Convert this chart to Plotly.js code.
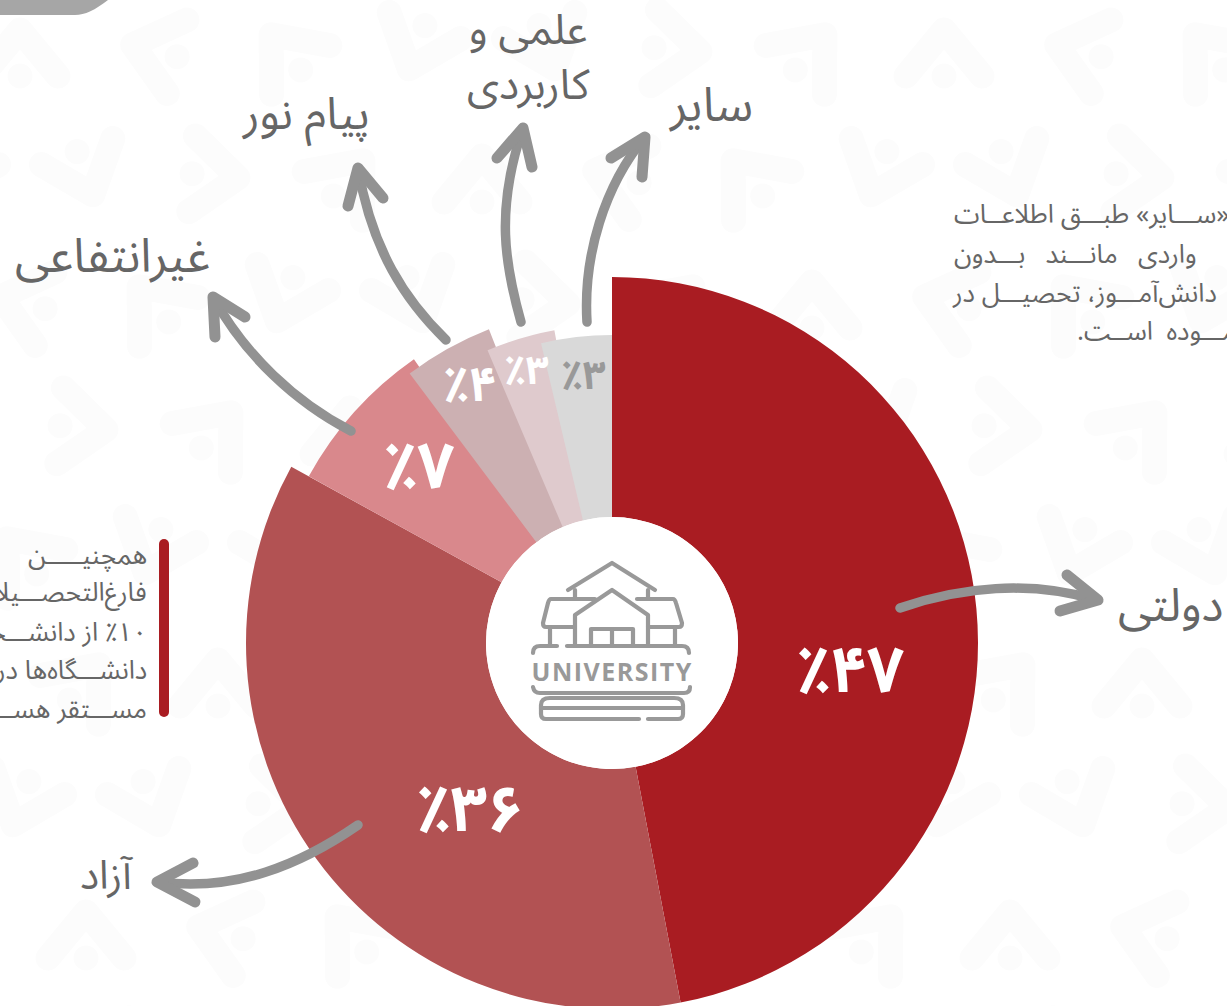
<!DOCTYPE html>
<html><head><meta charset="utf-8">
<script src="https://cdn.plot.ly/plotly-3.0.1.min.js"></script>
<style>html,body{margin:0;padding:0;width:1227px;height:1006px;overflow:hidden;background:#fff}</style>
</head><body><div id="chart"></div>
<script>
const categories=['دولتی','آزاد','غیرانتفاعی','پیام نور','علمی و کاربردی','سایر'];
const shares=[47,36,7,4,3,3];
const valueLabels=['٪۴۷','٪۳۶','٪۷','٪۴','٪۳','٪۳'];
const sliceColors=['#a91c22','#b25253','#d9888c','#ccb0b2','#dfcacd','#d9d9d9'];
const sliceRadii=[366,366,346,337,318,308];
// where each stacked wedge starts and ends on the 0-100 circle (the small wedges overlap slightly in the picture)
const sliceStart=[0,47,83,89.75,93.6,96.3];
const sliceEnd=[47,83,90.3,94.05,97.1,100];

const W=1227,H=1100,CX=612,CY=643,HOLE=126;
const fx=x=>x/W, fy=y=>1-y/H;
const FONT='"Noto Sans Arabic","DejaVu Sans",sans-serif';
const rtl=s=>'\u202B'+s+'\u202C';
const CLEAR='rgba(0,0,0,0)';

const traces=categories.map((c,i)=>({
  type:'pie',name:c,labels:['_a'+i,c,'_b'+i],values:[sliceStart[i],sliceEnd[i]-sliceStart[i],100-sliceEnd[i]],
  sort:false,direction:'clockwise',rotation:0,
  hole:HOLE/sliceRadii[i],textinfo:'none',hoverinfo:'label',showlegend:false,
  marker:{colors:[CLEAR,sliceColors[i],CLEAR],line:{width:0}},
  domain:{x:[fx(CX-sliceRadii[i]),fx(CX+sliceRadii[i])],y:[fy(CY+sliceRadii[i]),fy(CY-sliceRadii[i])]}
}));

const P=s=>s.replace(/(-?[\d.]+),(-?[\d.]+)/g,(m,a,b)=>fx(+a).toFixed(5)+','+fy(+b).toFixed(5));
const path=(d,color,width,fill,layer)=>({type:'path',xref:'paper',yref:'paper',path:P(d),layer:layer||'above',
  line:{color:color,width:width},fillcolor:fill||CLEAR});

// faint watermark: chevrons with a dot, turned differently from cell to cell
let wm='';
const turns=[0,95,200,285,40,160,320];
for(let j=-1;j<9;j++)for(let i=-1;i<11;i++){
  const ox=i*132+(j%2?66:0)+20,oy=j*126+50,a=turns[((i*3+j*5)%7+7)%7]*Math.PI/180;
  const rot=(x,y)=>(ox+x*Math.cos(a)-y*Math.sin(a)).toFixed(1)+','+(oy+x*Math.sin(a)+y*Math.cos(a)).toFixed(1);
  wm+='M'+rot(-38,26)+' L'+rot(0,-20)+' L'+rot(38,26)+' M'+rot(0,26)+' L'+rot(0,26)+' ';
}
const shapes=[path(wm,'#fcfcfc',25,null,'below')];
shapes.push(path('M0,0 L108,0 C95,10 85,15 75,15 L0,15 Z','#a6a6a6',0,'#a6a6a6','below'));
shapes.push(path('M164,544 L164,712','#a91c22',10));

shapes.push({type:'circle',xref:'paper',yref:'paper',layer:'above',x0:fx(CX-HOLE),x1:fx(CX+HOLE),
  y0:fy(CY+HOLE),y1:fy(CY-HOLE),fillcolor:'#fff',line:{width:0}});

const GR='#929292';
['M900,608 C960,587 1030,580 1096,600','M358,825 C300,865 235,892 159,882','M351,431 C295,402 245,355 213,297',
 'M446,340 C405,300 372,250 358,168','M521,322 C505,265 495,210 523,128','M587,322 C583,255 605,185 645,137']
 .forEach(d=>shapes.push(path(d,GR,9.5)));
['M1067,575 L1098,600 L1060,611','M193,863 L157,882 L195,902','M215,337 L213,297 L245,317',
 'M348,206 L358,168 L383,198','M497,158 L523,128 L532,167','M611,158 L645,137 L642,177']
 .forEach(d=>shapes.push(path(d,GR,11)));

const IC='#999999';
[
 'M568,590 L612,563 L655,590','M575,590 L575,598','M648,590 L648,598',
 'M595,599 L551,599 Q549,599 548,603 L543,623 Q543,627 546,627 L575,627',
 'M637,599 L673,599 Q675,599 676,603 L682,623 Q682,627 679,627 L648,627',
 'M575,645 L575,615 L612,590 L648,615 L648,645',
 'M591,645 L591,629 L633,629 L633,645','M612,630 L612,645',
 'M550,627 L550,645','M675,627 L675,645',
 'M533,653 Q533,646 540,646 L557,646','M567,646 L682,646 Q689,646 689,653',
 'M533,687 Q534,693 540,693 L684,693 Q690,693 690,687',
 'M639,719 L546,719 Q541,719 541,714 L541,705 Q541,698 550,698 L674,698 Q683,698 683,705 L683,714 Q683,719 678,719 L648,719',
 'M541,708 L683,708'
].forEach(d=>shapes.push(path(d,IC,4.2)));

const ann=(t,x,y,size,color,anchor,bold,family)=>({xref:'paper',yref:'paper',x:fx(x),y:fy(y),text:t,showarrow:false,
  xanchor:anchor||'center',yanchor:'middle',align:'center',
  font:{family:family||FONT,size:size,color:color,weight:bold?700:400}});
const annotations=[];
const lab=[[850,671,64,'#fff'],[470,810,64,'#fff'],[419,467,64,'#fff'],[469,385,48,'#fff'],[526,372,40,'#fff'],[583,376,40,'#999']];
valueLabels.forEach((t,i)=>annotations.push(ann(t,lab[i][0],lab[i][1],lab[i][2],lab[i][3],'center',true)));
const TX='#666666';
annotations.push(ann(rtl('دولتی'),1116,606,46,TX,'left'));
annotations.push(ann(rtl('آزاد'),107,876,40,TX));
annotations.push(ann(rtl('غیرانتفاعی'),113,257,47,TX));
annotations.push(ann(rtl('پیام نور'),305,114,45,TX));
annotations.push(ann(rtl('علمی و')+'<br>'+rtl('کاربردی'),528,58,42,TX));
annotations.push(ann(rtl('سایر'),710,106,47,TX));
annotations.push(ann('UNIVERSITY',612,671,25,IC,'center',true,'"Open Sans",sans-serif'));
const NB='\u00A0';
[['«ســـایر» طبـــق'+NB+'اطلاعــات',952,214],
 ['واردی'+NB+NB+NB+'مانـــند'+NB+NB+NB+'بـــدون',952,254],
 ['دانش‌آمـــوز، تحصیـــل در',950,293],
 ['نمـــوده'+NB+NB+'اســت.',1075,331]]
 .forEach(r=>annotations.push(ann(rtl(r[0]),r[1],r[2],26,TX,'left')));
[['همچنیـــــن',555],['فارغ‌التحصـــیلان دانشگاه',592],['٪۱۰ از دانشـــجویان',632],['دانشـــگاه‌ها در',670],['مســـتقر هســـتند',709]]
 .forEach(r=>annotations.push(ann(rtl(r[0]),149,r[1],26,TX,'right')));

Plotly.newPlot('chart',traces,{width:W,height:H,margin:{l:0,r:0,t:0,b:0},paper_bgcolor:'#fff',
  showlegend:false,shapes:shapes,annotations:annotations},{displayModeBar:false,staticPlot:true}).then(()=>{
  document.querySelectorAll('.shapelayer path').forEach(p=>{p.style.strokeLinecap='round';p.style.strokeLinejoin='round';});
  document.querySelectorAll('.annotation text').forEach(t=>{if(t.textContent==='UNIVERSITY')t.style.letterSpacing='1.5px';});
});
</script></body></html>
